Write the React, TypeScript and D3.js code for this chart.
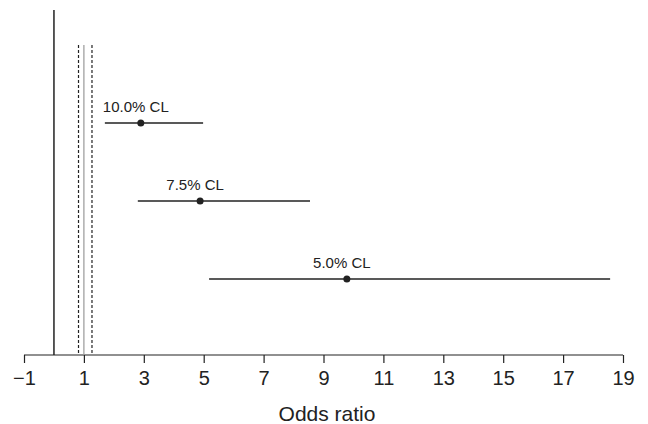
import React, { useRef, useEffect } from 'react'
import * as d3 from 'd3'

// confidence limit rows
const labels = ['10.0% CL', '7.5% CL', '5.0% CL']
const estimates = [2.9, 4.88, 9.78]
const lowers = [1.7, 2.8, 5.18]
const uppers = [4.98, 8.55, 18.57]
const tickValues = [-1, 1, 3, 5, 7, 9, 11, 13, 15, 17, 19]
const refLines = [0.82, 1.27] // dashed bounds around OR = 1

const W = 648
const H = 424

export default function App() {
    const svgRef = useRef<SVGSVGElement>(null)

    useEffect(() => {
        if (!svgRef.current) return
        const svg = d3.select(svgRef.current)
        svg.selectAll('*').remove()

        const axisY = 355
        const x = d3.scaleLinear().domain([-1, 19]).range([24, 623])
        const y = d3.scaleLinear().domain([0, 2]).range([123, 279])
        const ink = '#222'
        const font = '"Liberation Sans", Arial, sans-serif'

        // x 轴
        const axis = svg
            .append('g')
            .attr('transform', `translate(0,${axisY})`)
            .call(d3.axisBottom(x).tickValues(tickValues).tickSize(8).tickPadding(8).tickFormat((d) => (Number(d) < 0 ? '\u2212' + Math.abs(Number(d)) : String(d))))
        axis.select('.domain').attr('stroke', ink).attr('stroke-width', 1.2).attr('d', `M${x(-1)},0H${x(19)}`)
        axis.selectAll('.tick line').attr('stroke', ink).attr('stroke-width', 1.2)
        axis.selectAll('.tick text').attr('fill', ink).style('font-size', '20px').style('font-family', font)

        svg.append('text')
            .attr('x', 327)
            .attr('y', 421)
            .attr('text-anchor', 'middle')
            .attr('fill', ink)
            .style('font-size', '21px')
            .style('font-family', font)
            .text('Odds ratio')

        // 参考线
        svg.append('line')
            .attr('x1', x(0)).attr('x2', x(0))
            .attr('y1', 10).attr('y2', axisY)
            .attr('stroke', ink).attr('stroke-width', 1.5)

        svg.append('line')
            .attr('x1', x(1)).attr('x2', x(1))
            .attr('y1', y(-1)).attr('y2', axisY)
            .attr('stroke', '#999').attr('stroke-width', 1.2)

        svg.selectAll('.ref')
            .data(refLines)
            .enter()
            .append('line')
            .attr('x1', (d) => x(d)).attr('x2', (d) => x(d))
            .attr('y1', y(-1)).attr('y2', axisY)
            .attr('stroke', ink).attr('stroke-width', 1.2)
            .attr('stroke-dasharray', '3,2')

        // 置信区间
        const rows = svg.selectAll('.row')
            .data(labels)
            .enter()
            .append('g')

        rows.append('line')
            .attr('x1', (_, i) => x(lowers[i]))
            .attr('x2', (_, i) => x(uppers[i]))
            .attr('y1', (_, i) => y(i))
            .attr('y2', (_, i) => y(i))
            .attr('stroke', ink).attr('stroke-width', 1.5)

        rows.append('circle')
            .attr('cx', (_, i) => x(estimates[i]))
            .attr('cy', (_, i) => y(i))
            .attr('r', 3.5)
            .attr('fill', ink)

        rows.append('text')
            .attr('x', (_, i) => x(estimates[i]) - 5)
            .attr('y', (_, i) => y(i) - 11)
            .attr('text-anchor', 'middle')
            .attr('fill', ink)
            .style('font-size', '15px')
            .style('font-family', font)
            .text((d) => d)
    }, [])

    return (
        <div style={{ position: 'absolute', left: 0, top: 0, background: '#fff' }}>
            <svg ref={svgRef} width={W} height={H} />
        </div>
    )
}
